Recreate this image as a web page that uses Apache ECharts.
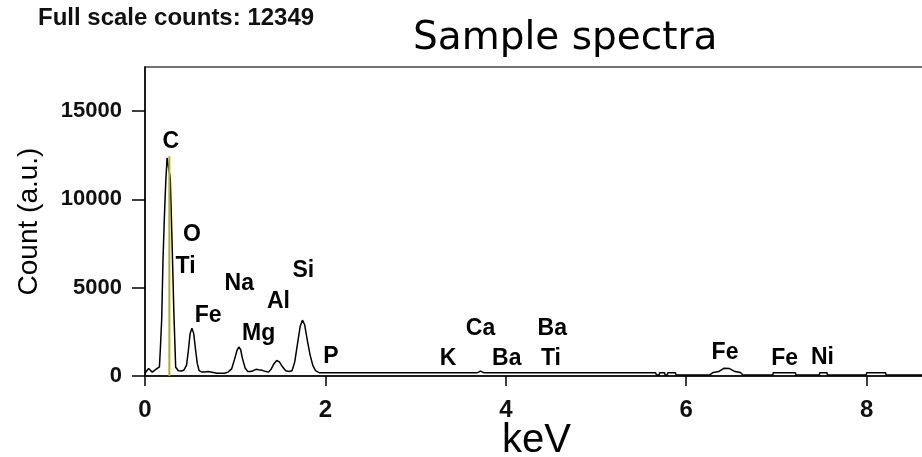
<!DOCTYPE html>
<html>
<head>
<meta charset="utf-8">
<script src="https://cdn.jsdelivr.net/npm/echarts@6/dist/echarts.min.js"></script>
<style>
html,body{margin:0;padding:0;background:#fff;}
#chart{width:922px;height:457px;}
</style>
</head>
<body>
<div id="chart"></div>
<script>
// Spectrum (energy in keV, counts)
const keV = [0.00,0.02,0.04,0.06,0.08,0.10,0.12,0.14,0.16,0.17,0.185,0.20,0.215,0.23,0.245,0.265,0.28,0.30,0.32,0.34,0.37,0.40,0.43,0.46,0.48,0.50,0.52,0.54,0.56,0.58,0.60,0.63,0.66,0.68,0.70,0.72,0.80,0.88,0.92,0.96,0.99,1.02,1.04,1.06,1.08,1.11,1.14,1.17,1.20,1.23,1.26,1.30,1.34,1.37,1.40,1.43,1.46,1.49,1.52,1.56,1.60,1.63,1.66,1.69,1.72,1.745,1.77,1.80,1.83,1.86,1.89,1.93,2.00,3.68,3.72,3.76,5.66,5.67,5.70,5.705,5.76,5.765,5.79,5.795,5.88,5.885,6.26,6.30,6.36,6.42,6.48,6.54,6.60,6.63,6.96,6.965,7.21,7.215,7.475,7.48,7.56,7.565,7.995,8.00,8.21,8.215,8.65];
const counts = [150,300,420,350,220,250,380,480,520,1500,3200,6650,9000,11000,12349,12349,11200,7600,3600,500,300,280,330,600,1400,2400,2700,2400,1500,700,300,220,230,280,250,160,150,160,220,400,900,1450,1640,1500,1000,450,250,260,300,380,350,320,250,220,400,700,880,800,550,300,260,300,800,1800,2800,3160,2900,2000,1200,600,300,190,180,180,280,180,180,60,60,190,190,60,60,190,190,60,60,200,250,440,420,250,200,60,60,190,190,60,60,190,190,60,60,190,190,60,60];

// Carbon marker line
const markerKeV = 0.27;
const markerTop = 12450;

// Element labels
const peakNames = ['C','O','Ti','Na','Fe','Mg','Al','Si','P','K','Ca','Ba','Ba','Ti','Fe','Fe','Ni'];
const peakKeV = [0.285,0.52,0.45,1.045,0.70,1.26,1.48,1.755,2.06,3.36,3.72,4.01,4.515,4.50,6.43,7.09,7.51];
const peakCount = [13300,7990,6190,5250,3440,2400,4200,5950,1070,980,2690,980,2690,980,1350,980,1030];

// Axis ticks
const xTicks = [0,2,4,6,8];
const yTicks = [0,5000,10000,15000];

const spectrum = keV.map((k,i)=>[k,counts[i]]);
const labelsData = peakNames.map((n,i)=>[peakKeV[i],peakCount[i],n]);

const chart = echarts.init(document.getElementById('chart'), null, {renderer:'canvas'});
const FONT = '"Liberation Sans", Arial, sans-serif';
chart.setOption({
  animation:false,
  backgroundColor:'#fff',
  title:[
    {text:'Full scale counts: 12349', left:38, top:6, padding:0,
     textStyle:{fontFamily:FONT,fontWeight:'bold',fontSize:24,color:'#111'}},
    {text:'Sample spectra', left:413, top:19, padding:0,
     textStyle:{fontFamily:'"DejaVu Sans", sans-serif',fontWeight:'normal',fontSize:39,color:'#000'}}
  ],
  grid:{left:145,right:-6,top:67,bottom:81,outerBoundsMode:'none',containLabel:false,
        show:true,borderColor:'#444',borderWidth:1.5,backgroundColor:'transparent'},
  xAxis:{
    type:'value',min:0,max:8.68,interval:2,
    name:'keV',nameLocation:'middle',nameGap:45,nameMoveOverlap:false,
    nameTextStyle:{fontFamily:FONT,fontSize:40,color:'#000'},
    axisLine:{show:true,onZero:false,lineStyle:{color:'#000',width:1.5}},
    axisTick:{show:true,length:10,inside:false,customValues:xTicks,lineStyle:{color:'#000',width:1.5}},
    axisLabel:{customValues:xTicks,margin:22,fontFamily:FONT,fontWeight:'bold',fontSize:24,color:'#111'},
    splitLine:{show:false}
  },
  yAxis:{
    type:'value',min:0,max:17500,interval:5000,
    name:'Count (a.u.)',nameLocation:'middle',nameGap:102,nameMoveOverlap:false,
    nameTextStyle:{fontFamily:FONT,fontSize:28,color:'#000'},
    axisLine:{show:true,lineStyle:{color:'#000',width:1.5}},
    axisTick:{show:true,length:13,inside:false,customValues:yTicks,lineStyle:{color:'#000',width:1.5}},
    axisLabel:{customValues:yTicks,margin:23,formatter:v=>String(v),fontFamily:FONT,fontWeight:'bold',fontSize:22,color:'#111'},
    splitLine:{show:false}
  },
  series:[
    {type:'line',data:spectrum,showSymbol:false,symbol:'none',
     lineStyle:{color:'#000',width:1.5},z:3},
    {type:'line',data:[[markerKeV,0],[markerKeV,markerTop]],showSymbol:false,symbol:'none',
     lineStyle:{color:'#b3ab22',width:2},z:4},
    {type:'scatter',data:labelsData,symbol:'circle',symbolSize:2,itemStyle:{color:'rgba(0,0,0,0)'},z:5,
     label:{show:true,position:'inside',formatter:p=>p.data[2],opacity:1,textBorderWidth:0,
       fontFamily:FONT,fontWeight:'bold',fontSize:23,color:'#000'}}
  ]
});
</script>
</body>
</html>
